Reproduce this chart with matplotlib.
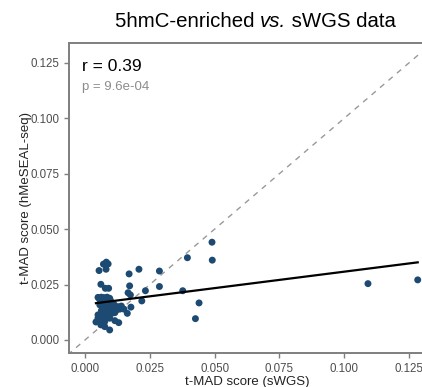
import numpy as np
import matplotlib
matplotlib.use("Agg")
import matplotlib.pyplot as plt

plt.rcParams['font.family'] = ['Liberation Sans', 'DejaVu Sans']

# t-MAD scores per sample
swgs = [0.0061, 0.0078, 0.0091, 0.0050, 0.0063, 0.0073, 0.0085, 0.0095, 0.0057, 0.0069,
        0.0082, 0.0101, 0.0057, 0.0076, 0.0089, 0.0108, 0.0127, 0.0140, 0.0150, 0.0121,
        0.0134, 0.0063, 0.0082, 0.0101, 0.0115, 0.0163, 0.0050, 0.0069, 0.0089, 0.0057,
        0.0076, 0.0095, 0.0115, 0.0130, 0.0061, 0.0076, 0.0095, 0.0042, 0.0050, 0.0054,
        0.0071, 0.0082, 0.0089, 0.0081, 0.0170, 0.0208, 0.0287, 0.0172, 0.0166, 0.0175,
        0.0233, 0.0287, 0.0219, 0.0177, 0.0377, 0.0395, 0.0490, 0.0491, 0.0440, 0.0426,
        0.1092, 0.1284, 0.0070, 0.0088, 0.0105, 0.0066, 0.0112, 0.0098]
hmeseal = [0.0251, 0.0233, 0.0233, 0.0192, 0.0193, 0.0191, 0.0193, 0.0188, 0.0181, 0.0173,
           0.0173, 0.0168, 0.0158, 0.0150, 0.0153, 0.0148, 0.0150, 0.0153, 0.0139, 0.0135,
           0.0139, 0.0132, 0.0128, 0.0120, 0.0123, 0.0120, 0.0113, 0.0105, 0.0107, 0.0090,
           0.0083, 0.0098, 0.0087, 0.0078, 0.0068, 0.0060, 0.0045, 0.0081, 0.0099, 0.0313,
           0.0342, 0.0351, 0.0343, 0.0319, 0.0298, 0.0319, 0.0311, 0.0244, 0.0213, 0.0203,
           0.0222, 0.0241, 0.0176, 0.0148, 0.0222, 0.0371, 0.0441, 0.0360, 0.0167, 0.0096,
           0.0254, 0.0271, 0.0162, 0.0142, 0.0135, 0.0118, 0.0160, 0.0178]

x_ticks = [0.000, 0.025, 0.050, 0.075, 0.100, 0.125]
y_ticks = [0.000, 0.025, 0.050, 0.075, 0.100, 0.125]
r_label = "r = 0.39"
p_label = "p = 9.6e-04"
title_parts = [("5hmC-enriched ", "normal"), ("vs.", "italic"), (" sWGS data", "normal")]

x = np.array(swgs)
y = np.array(hmeseal)

W, H = 422, 387
fig = plt.figure(figsize=(W / 100, H / 100), dpi=100)
left, right, top, bottom = 69, 426, 43, 353
ax = fig.add_axes([left / W, 1 - bottom / H, (right - left) / W, (bottom - top) / H])

ax.set_xlim(-0.0062, 0.1316)
ax.set_ylim(-0.0059, 0.1340)

# identity line
lim = np.array([-0.01, 0.14])
ax.plot(lim, lim, color='#999999', lw=1.0, ls=(0, (4, 4)), zorder=1)

ax.scatter(x, y, s=25, color='#1c4a72', edgecolors='none', zorder=2)

# linear fit across the observed range
slope, intercept = np.polyfit(x, y, 1)
xf = np.array([x.min(), x.max()])
ax.plot(xf, intercept + slope * xf, color='black', lw=1.6, zorder=3)

ax.set_xticks(x_ticks)
ax.set_yticks(y_ticks)
ax.set_xticklabels([f"{v:.3f}" for v in x_ticks])
ax.set_yticklabels([f"{v:.3f}" for v in y_ticks])
ax.tick_params(colors='#7f7f7f', labelcolor='#4d4d4d', labelsize=8.3, length=3.5, width=1.0)
for s in ax.spines.values():
    s.set_color('#7f7f7f')
    s.set_linewidth(1.4)

ax.set_xlabel("t-MAD score (sWGS)", fontsize=9.5, color='#222222', labelpad=1)
ax.set_ylabel("t-MAD score (hMeSEAL-seq)", fontsize=9.5, color='#222222', labelpad=-1)

ax.text(0.036, 0.924, r_label, transform=ax.transAxes, fontsize=12.5, color='black',
        va='center', ha='left')
ax.text(0.036, 0.858, p_label, transform=ax.transAxes, fontsize=9.5, color='#8c8c8c',
        va='center', ha='left')

# title with an italic middle word, laid out piece by piece and centred
renderer = fig.canvas.get_renderer()
pieces = [fig.text(0, 1 - 27 / H, txt, fontsize=14.7, style=st, ha='left',
                   va='baseline', color='black') for txt, st in title_parts]
widths = [p.get_window_extent(renderer).width for p in pieces]
xpos = 255.5 - sum(widths) / 2
for p, w in zip(pieces, widths):
    p.set_x(xpos / W)
    xpos += w

fig.savefig("out.png", dpi=100)
